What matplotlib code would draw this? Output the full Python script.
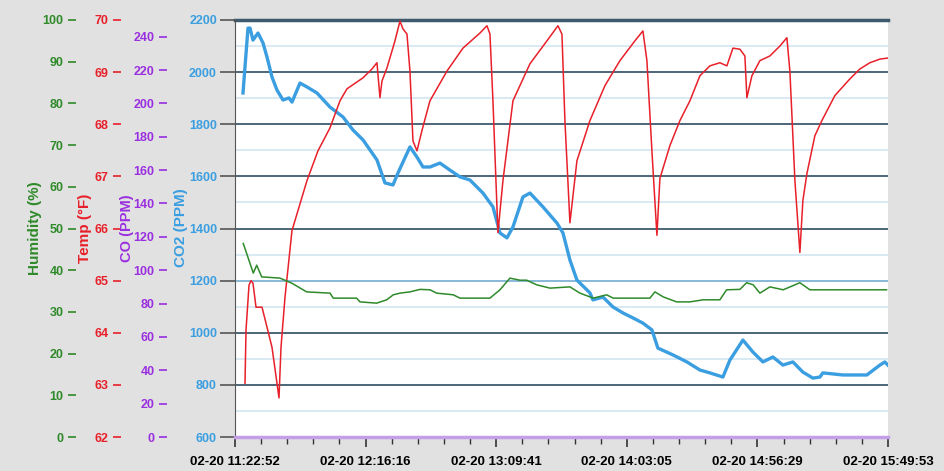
import numpy as np
import matplotlib
matplotlib.use("Agg")
from matplotlib import pyplot as plt

# time in minutes since 02-20 11:22:52
temp_t = [4.09, 4.50, 5.72, 6.54, 7.36, 8.59, 11.04, 13.08, 15.13, 17.17, 17.99, 18.81,
          20.44, 23.30, 29.44, 33.93, 38.84, 42.93, 45.79, 52.33, 56.01, 58.05, 59.28,
          60.10, 62.14, 65.41, 67.46, 68.68, 70.32, 71.54, 72.77, 74.41, 76.45, 79.72,
          86.67, 93.21, 100.16, 103.03, 104.25, 105.48, 106.70, 107.52, 109.57, 113.66,
          120.61, 127.56, 132.05, 133.69, 134.91, 136.96, 139.82, 145.13, 151.27, 157.40,
          163.53, 166.80, 168.44, 170.48, 172.53, 173.75, 177.84, 181.93, 186.02, 190.11,
          194.19, 198.28, 201.14, 203.60, 206.46, 208.50, 209.32, 211.37, 214.64, 218.72,
          222.81, 225.67, 226.90, 228.95, 230.99, 232.22, 233.85, 237.12, 239.98, 245.30,
          251.43, 255.52, 259.61, 263.70, 266.97]
temp_v = [63.03, 64.05, 64.91, 65.00, 64.95, 64.49, 64.49, 64.11, 63.72, 63.03, 62.75, 63.72,
          64.68, 65.96, 66.92, 67.49, 67.93, 68.45, 68.68, 68.89, 69.06, 69.18, 68.51,
          68.83, 69.08, 69.60, 69.98, 69.83, 69.73, 69.02, 67.68, 67.49, 67.88, 68.45,
          69.02, 69.46, 69.75, 69.89, 69.73, 68.45, 66.92, 65.92, 66.92, 68.45,
          69.16, 69.60, 69.89, 69.73, 68.07, 66.11, 67.30, 68.07, 68.74, 69.22,
          69.60, 69.79, 69.22, 67.49, 65.87, 66.96, 67.59, 68.07, 68.45, 68.93,
          69.12, 69.18, 69.12, 69.46, 69.44, 69.31, 68.51, 68.93, 69.22, 69.31,
          69.50, 69.66, 69.02, 66.92, 65.54, 66.54, 67.05, 67.78, 68.07, 68.55,
          68.87, 69.06, 69.18, 69.25, 69.27]

co2_t = [3.27, 5.31, 6.13, 7.36, 9.40, 11.45, 13.08, 15.13, 17.17, 19.62, 22.08, 23.30,
         26.57, 29.44, 33.52, 38.84, 44.15, 48.24, 52.33, 58.05, 61.32, 64.60, 66.64,
         71.54, 74.41, 76.86, 79.72, 83.81, 87.90, 91.99, 96.08, 101.39, 105.48, 108.34,
         111.20, 113.66, 117.74, 120.61, 125.92, 131.64, 134.10, 136.96, 139.82, 145.13,
         146.36, 150.45, 154.54, 158.63, 162.71, 166.80, 170.48, 172.93, 179.07, 184.79,
         190.11, 194.19, 199.51, 202.37, 207.69, 211.78, 215.86, 219.95, 224.04, 228.13,
         232.22, 236.30, 239.17, 240.39, 248.57, 258.38, 263.70, 265.74, 266.97]
co2_v = [1920, 2169, 2169, 2123, 2150, 2112, 2058, 1981, 1931, 1893, 1901, 1885,
         1958, 1943, 1920, 1866, 1828, 1778, 1740, 1663, 1575, 1567, 1613,
         1713, 1674, 1636, 1636, 1651, 1624, 1598, 1586, 1536, 1483, 1383,
         1364, 1406, 1521, 1536, 1483, 1421, 1383, 1279, 1202, 1153,
         1126, 1137, 1099, 1076, 1057, 1037, 1011, 941, 915, 888,
         857, 846, 830, 895, 972, 926, 888, 907, 876, 888,
         849, 826, 830, 846, 838, 838, 876, 888, 876]

hum_t = [3.39, 7.48, 8.87, 10.92, 18.40, 23.18, 29.31, 38.84, 40.19, 49.75, 51.10, 57.93,
         62.02, 64.72, 67.46, 71.54, 75.63, 79.72, 82.46, 89.25, 91.99, 104.25, 108.34,
         112.43, 116.52, 119.26, 123.35, 128.78, 136.96, 141.05, 146.49, 151.96, 154.66,
         169.66, 171.71, 175.10, 180.58, 186.02, 191.46, 198.28, 201.02, 206.46, 209.20,
         211.90, 214.64, 218.72, 224.16, 230.99, 235.08, 266.43]
hum_v = [46.4, 39.3, 41.2, 38.4, 38.1, 36.9, 34.8, 34.5, 33.3, 33.3, 32.4, 32.1,
         32.9, 34.1, 34.5, 34.8, 35.4, 35.3, 34.5, 34.1, 33.3, 33.3, 35.3,
         38.1, 37.6, 37.6, 36.5, 35.7, 36.0, 34.5, 33.3, 34.1, 33.3,
         33.3, 34.8, 33.6, 32.4, 32.4, 32.9, 32.9, 35.3, 35.4, 37.0,
         36.5, 34.5, 36.0, 35.3, 37.0, 35.3, 35.3]

co_t = [0.0, 267.0]
co_v = [0, 0]

x_labels = ["02-20 11:22:52", "02-20 12:16:16", "02-20 13:09:41",
            "02-20 14:03:05", "02-20 14:56:29", "02-20 15:49:53"]
x_end = 267.02

c_hum = "#2f8a2a"
c_temp = "#e8202a"
c_co = "#9a2fe0"
c_co2 = "#3a9ee0"

plt.rcParams['font.family'] = ['Liberation Sans', 'DejaVu Sans']
plt.rcParams['font.weight'] = 'bold'

fig = plt.figure(figsize=(9.45, 4.71), dpi=100, facecolor="#e1e1e1")
ax = fig.add_axes([235/945, 1-437/471, 653/945, 417/471])
ax.set_facecolor("white")

# gridlines from the CO2 scale
for v in range(700, 2200, 100):
    if v % 200 == 0 and v != 1200:
        ax.axhline(v, color="#3e5a6e", lw=1.3, zorder=1)
    elif v == 1200:
        ax.axhline(v, color="#7fb2d6", lw=1.3, zorder=1)
    else:
        ax.axhline(v, color="#d3e6f2", lw=1.2, zorder=1)
ax.axhline(2200, color="#3e5a6e", lw=2.5, zorder=1, clip_on=False)

ax.set_ylim(600, 2200)
ax.set_xlim(0, x_end)
ax.plot(co2_t, co2_v, color=c_co2, lw=2.4, zorder=4)

for s in ["top", "right"]:
    ax.spines[s].set_visible(False)
ax.spines["left"].set_color("#555555")
ax.spines["bottom"].set_visible(False)

ax.set_yticks(range(600, 2201, 200))
ax.tick_params(axis="y", colors=c_co2, labelsize=9, length=11, width=1.2, pad=2)
ax.tick_params(axis="y", color="#555555")
for lbl in ax.get_yticklabels():
    lbl.set_fontweight("bold")

major = np.linspace(0, x_end, 6)
minor = np.linspace(0, x_end, 26)
ax.set_xticks(major)
ax.set_xticks(minor, minor=True)
ax.set_xticklabels(x_labels, fontsize=9.5, fontweight="bold")
ax.tick_params(axis="x", length=7, width=1.2, color="#333333", pad=7)
ax.tick_params(axis="x", which="minor", length=5, width=1, color="#333333")


def side_axis(offset_px, lo, hi, ticks, color):
    a = ax.twinx()
    a.set_ylim(lo, hi)
    a.yaxis.set_ticks_position("left")
    a.yaxis.set_label_position("left")
    a.spines["left"].set_position(("outward", offset_px * 0.72))
    for s in ["left", "right", "top", "bottom"]:
        a.spines[s].set_visible(False)
    a.set_yticks(ticks)
    a.tick_params(axis="y", colors=color, labelsize=9, length=6, width=1.2, pad=3)
    for lbl in a.get_yticklabels():
        lbl.set_fontweight("bold")
    return a


ax_co = side_axis(68, 0, 250, range(0, 241, 20), c_co)
ax_temp = side_axis(114, 62, 70, range(62, 71), c_temp)
ax_hum = side_axis(159, 0, 100, range(0, 101, 10), c_hum)

# CO reads zero all the way, drawn along the bottom edge
ax_co.plot(co_t, co_v, color="#c49ee6", lw=2.5, zorder=3, clip_on=False)
ax_hum.plot(hum_t, hum_v, color=c_hum, lw=1.1, zorder=3)
ax_temp.plot(temp_t, temp_v, color=c_temp, lw=1.1, zorder=3)

# axis titles
ymid = 1 - 228/471
fig.text(35/945, ymid, "Humidity (%)", color=c_hum, rotation=90, ha="center", va="center",
         fontsize=11, fontweight="bold")
fig.text(85/945, ymid, "Temp (°F)", color=c_temp, rotation=90, ha="center", va="center",
         fontsize=11, fontweight="bold")
fig.text(127/945, ymid, "CO (PPM)", color=c_co, rotation=90, ha="center", va="center",
         fontsize=10.5, fontweight="bold")
fig.text(181/945, ymid, "CO2 (PPM)", color=c_co2, rotation=90, ha="center", va="center",
         fontsize=11, fontweight="bold")

fig.savefig("out.png", dpi=100, facecolor=fig.get_facecolor())
